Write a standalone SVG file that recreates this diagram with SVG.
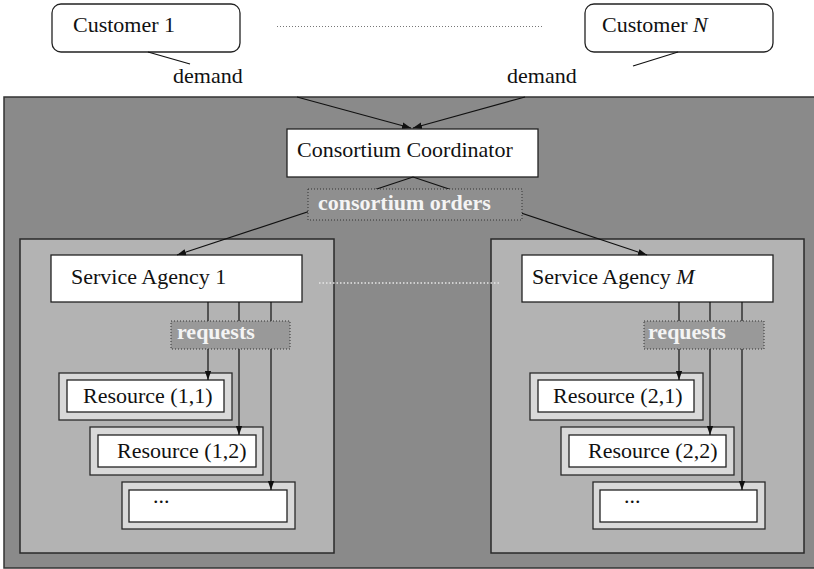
<svg xmlns="http://www.w3.org/2000/svg" width="814" height="569" viewBox="0 0 814 569">
  <style>
    text { font-family: "Liberation Serif", "Times New Roman", serif; font-size: 22px; fill: #111; }
    .lbl { font-weight: bold; fill: #f4f4f4; }
    .box { fill: #ffffff; stroke: #222; stroke-width: 1.3; }
    .cust { fill: #ffffff; stroke: #222; stroke-width: 1.3; }
    .panel { fill: #b3b3b3; stroke: #2a2a2a; stroke-width: 1.5; }
    .frame { fill: #d9d9d9; stroke: #2a2a2a; stroke-width: 1.3; }
    .edge { fill: none; stroke: #111; stroke-width: 1.2; }
    .tag { stroke: #333; stroke-width: 1; stroke-dasharray: 1 2; }
  </style>
  <defs>
    <marker id="arr" viewBox="0 0 10 10" refX="10" refY="5" markerWidth="9" markerHeight="9" markerUnits="userSpaceOnUse" orient="auto">
      <path d="M0,1.5 L10,5 L0,8.5 z" fill="#111"/>
    </marker>
  </defs>

  <!-- consortium area -->
  <rect id="consortium" x="4" y="97" width="814" height="471" fill="#8a8a8a" stroke="#333" stroke-width="1.5"/>

  <!-- customers -->
  <g id="customer1">
    <rect class="cust" x="52" y="4" width="188" height="48" rx="9"/>
    <text x="73" y="32">Customer 1</text>
  </g>
  <g id="customerN">
    <rect class="cust" x="585" y="4" width="188" height="48" rx="9"/>
    <text x="602" y="32">Customer <tspan font-style="italic">N</tspan></text>
  </g>
  <line x1="277" y1="26.5" x2="543" y2="26.5" stroke="#777" stroke-width="1" stroke-dasharray="1 2"/>

  <!-- coordinator -->
  <g id="coordinator">
    <rect class="box" x="287" y="129" width="251" height="48"/>
    <text x="297" y="157">Consortium Coordinator</text>
  </g>

  <!-- service agency 1 -->
  <g id="agency1">
    <rect class="panel" x="20" y="239" width="314" height="314"/>
    <rect class="box" x="51" y="255" width="251" height="47"/>
    <text x="71" y="284">Service Agency 1</text>
  </g>
  <g id="resource11">
    <rect class="frame" x="59" y="373" width="173" height="47"/>
    <rect class="box" x="67" y="380" width="157" height="32"/>
    <text x="83" y="403">Resource (1,1)</text>
  </g>
  <g id="resource12">
    <rect class="frame" x="90" y="427" width="173" height="48"/>
    <rect class="box" x="98" y="435" width="158" height="32"/>
    <text x="117" y="458">Resource (1,2)</text>
  </g>
  <g id="resource1n">
    <rect class="frame" x="122" y="482" width="173" height="47"/>
    <rect class="box" x="129" y="490" width="158" height="32"/>
    <text x="153" y="503">...</text>
  </g>

  <!-- service agency M -->
  <g id="agencyM">
    <rect class="panel" x="491" y="239" width="313" height="314"/>
    <rect class="box" x="522" y="255" width="251" height="47"/>
    <text x="532" y="284">Service Agency <tspan font-style="italic">M</tspan></text>
  </g>
  <g id="resource21">
    <rect class="frame" x="530" y="373" width="173" height="47"/>
    <rect class="box" x="538" y="380" width="156" height="32"/>
    <text x="553" y="403">Resource (2,1)</text>
  </g>
  <g id="resource22">
    <rect class="frame" x="561" y="427" width="173" height="48"/>
    <rect class="box" x="569" y="435" width="157" height="32"/>
    <text x="588" y="458">Resource (2,2)</text>
  </g>
  <g id="resource2n">
    <rect class="frame" x="593" y="482" width="172" height="47"/>
    <rect class="box" x="600" y="490" width="157" height="32"/>
    <text x="624" y="503">...</text>
  </g>

  <line x1="319" y1="283" x2="500" y2="283" stroke="#e6e6e6" stroke-width="1.5" stroke-dasharray="1.5 2"/>

  <!-- connectors -->
  <g id="connectors">
    <path class="edge" d="M148,52 L190,64"/>
    <path class="edge" d="M297,97 L411,128" marker-end="url(#arr)"/>
    <path class="edge" d="M678,52 L633,66"/>
    <path class="edge" d="M525,97 L413,128" marker-end="url(#arr)"/>

    <path class="edge" d="M413,177 L177,255" marker-end="url(#arr)"/>
    <path class="edge" d="M413,177 L647,255" marker-end="url(#arr)"/>

    <path class="edge" d="M208,302 L208,380" marker-end="url(#arr)"/>
    <path class="edge" d="M239,302 L239,435" marker-end="url(#arr)"/>
    <path class="edge" d="M271,302 L271,490" marker-end="url(#arr)"/>

    <path class="edge" d="M679,302 L679,380" marker-end="url(#arr)"/>
    <path class="edge" d="M710,302 L710,435" marker-end="url(#arr)"/>
    <path class="edge" d="M742,302 L742,490" marker-end="url(#arr)"/>

    <!-- edge labels -->
    <text x="173" y="83">demand</text>
    <text x="507" y="83">demand</text>

    <rect class="tag" x="308" y="189" width="214" height="31" fill="#8f8f8f"/>
    <text class="lbl" x="318" y="210">consortium orders</text>

    <rect class="tag" x="171" y="321" width="119" height="28" fill="#999999"/>
    <text class="lbl" x="177" y="339">requests</text>

    <rect class="tag" x="644" y="321" width="120" height="28" fill="#999999"/>
    <text class="lbl" x="648" y="339">requests</text>
  </g>
</svg>
